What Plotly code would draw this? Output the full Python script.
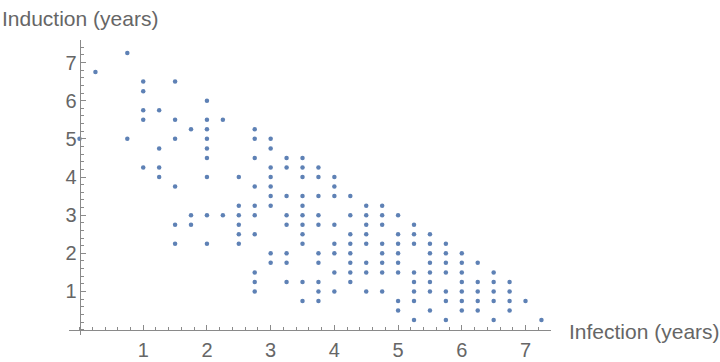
import plotly.graph_objects as go

# Infection (years) and Induction (years) pairs, read column by column
infection = [
    0,
    0.25,
    0.75, 0.75,
    1, 1, 1, 1, 1,
    1.25, 1.25, 1.25, 1.25,
    1.5, 1.5, 1.5, 1.5, 1.5, 1.5,
    1.75, 1.75, 1.75,
    2, 2, 2, 2, 2, 2, 2, 2, 2,
    2.25, 2.25,
    2.5, 2.5, 2.5, 2.5, 2.5, 2.5,
    2.75, 2.75, 2.75, 2.75, 2.75, 2.75, 2.75, 2.75, 2.75, 2.75,
    3, 3, 3, 3, 3, 3, 3, 3, 3,
    3.25, 3.25, 3.25, 3.25, 3.25, 3.25, 3.25, 3.25,
    3.5, 3.5, 3.5, 3.5, 3.5, 3.5, 3.5, 3.5, 3.5, 3.5, 3.5,
    3.75, 3.75, 3.75, 3.75, 3.75, 3.75, 3.75, 3.75, 3.75, 3.75,
    4, 4, 4, 4, 4, 4, 4, 4,
    4.25, 4.25, 4.25, 4.25, 4.25, 4.25, 4.25, 4.25,
    4.5, 4.5, 4.5, 4.5, 4.5, 4.5, 4.5, 4.5,
    4.75, 4.75, 4.75, 4.75, 4.75, 4.75, 4.75, 4.75,
    5, 5, 5, 5, 5, 5, 5, 5,
    5.25, 5.25, 5.25, 5.25, 5.25, 5.25, 5.25, 5.25,
    5.5, 5.5, 5.5, 5.5, 5.5, 5.5, 5.5, 5.5,
    5.75, 5.75, 5.75, 5.75, 5.75, 5.75, 5.75,
    6, 6, 6, 6, 6, 6, 6,
    6.25, 6.25, 6.25, 6.25, 6.25,
    6.5, 6.5, 6.5, 6.5, 6.5,
    6.75, 6.75, 6.75, 6.75,
    7,
    7.25,
]
induction = [
    5,
    6.75,
    7.25, 5,
    6.5, 6.25, 5.75, 5.5, 4.25,
    5.75, 4.75, 4.25, 4,
    6.5, 5.5, 5, 3.75, 2.75, 2.25,
    5.25, 3, 2.75,
    6, 5.5, 5.25, 5, 4.75, 4.5, 4, 3, 2.25,
    5.5, 3,
    4, 3.25, 3, 2.75, 2.5, 2.25,
    5.25, 5, 4.5, 3.75, 3.25, 3, 2.5, 1.5, 1.25, 1,
    5, 4.75, 4.25, 4, 3.75, 3.5, 3.25, 2, 1.75,
    4.5, 4.25, 3.5, 3, 2.75, 2, 1.75, 1.25,
    4.5, 4.25, 4, 3.5, 3.25, 3, 2.75, 2.5, 2.25, 1.25, 0.75,
    4.25, 4, 3.5, 3, 2.75, 2, 1.75, 1.25, 1, 0.75,
    4, 3.75, 3.5, 2.75, 2.25, 2, 1.5, 1,
    3.5, 3, 2.5, 2.25, 2, 1.75, 1.5, 1.25,
    3.25, 3, 2.75, 2.5, 2.25, 1.75, 1.5, 1,
    3.25, 3, 2.75, 2.25, 2, 1.75, 1.5, 1,
    3, 2.5, 2.25, 2, 1.75, 1.5, 0.75, 0.5,
    2.75, 2.5, 2.25, 1.5, 1.25, 1, 0.75, 0.25,
    2.5, 2.25, 2, 1.75, 1.5, 1.25, 1, 0.5,
    2.25, 2, 1.75, 1.5, 1, 0.75, 0.25,
    2, 1.75, 1.5, 1.25, 1, 0.75, 0.5,
    1.75, 1.25, 1, 0.75, 0.5,
    1.5, 1.25, 1, 0.75, 0.25,
    1.25, 1, 0.75, 0.5,
    0.75,
    0.25,
]

x_ticks = [1, 2, 3, 4, 5, 6, 7]
y_ticks = [1, 2, 3, 4, 5, 6, 7]
x_title = "Infection (years)"
y_title = "Induction (years)"

x_range = [-0.165, 7.40]
y_range = [-0.14, 7.59]

POINT = "#5E81B5"
AXIS = "#8a8a8a"
TEXT = "#666666"
FONT = "Liberation Sans, Arial, sans-serif"

fig = go.Figure()
fig.add_trace(go.Scatter(
    x=infection, y=induction, mode="markers",
    marker=dict(color=POINT, size=4.5, line=dict(width=0)),
    cliponaxis=False, showlegend=False,
))

L, R, T, B = 69, 169.3, 40, 26.7

common = dict(
    showgrid=False, zeroline=False, showline=True, linecolor=AXIS, linewidth=1,
    ticks="inside", ticklen=5, tickwidth=1, tickcolor=AXIS,
    tickmode="array", automargin=False,
    tickfont=dict(family=FONT, size=20, color=TEXT),
)

fig.update_layout(
    width=720, height=362, autosize=False,
    margin=dict(l=L, r=R, t=T, b=B, pad=0),
    paper_bgcolor="white", plot_bgcolor="white",
    xaxis=dict(
        range=x_range, tickvals=x_ticks, ticktext=[str(v) for v in x_ticks],
        anchor="free", position=(0 - y_range[0]) / (y_range[1] - y_range[0]),
        ticklabelstandoff=2,
        minor=dict(tick0=0, dtick=0.2, ticks="inside", ticklen=3, tickcolor=AXIS, showgrid=False),
        **common,
    ),
    yaxis=dict(
        range=y_range, tickvals=y_ticks, ticktext=[str(v) for v in y_ticks],
        anchor="free", position=(0 - x_range[0]) / (x_range[1] - x_range[0]),
        ticklabelstandoff=-1,
        minor=dict(tick0=0, dtick=0.2, ticks="inside", ticklen=3, tickcolor=AXIS, showgrid=False),
        **common,
    ),
    annotations=[
        dict(text=y_title, xref="paper", yref="paper",
             x=(0 - L) / (720 - L - R), y=(362 - B - 18) / (362 - T - B),
             xanchor="left", yanchor="middle", showarrow=False,
             font=dict(family=FONT, size=21, color=TEXT)),
        dict(text=x_title, xref="paper", yref="paper",
             x=(567 - L) / (720 - L - R), y=(362 - B - 332) / (362 - T - B),
             xanchor="left", yanchor="middle", showarrow=False,
             font=dict(family=FONT, size=21, color=TEXT)),
    ],
)

fig.write_html("out.html")
